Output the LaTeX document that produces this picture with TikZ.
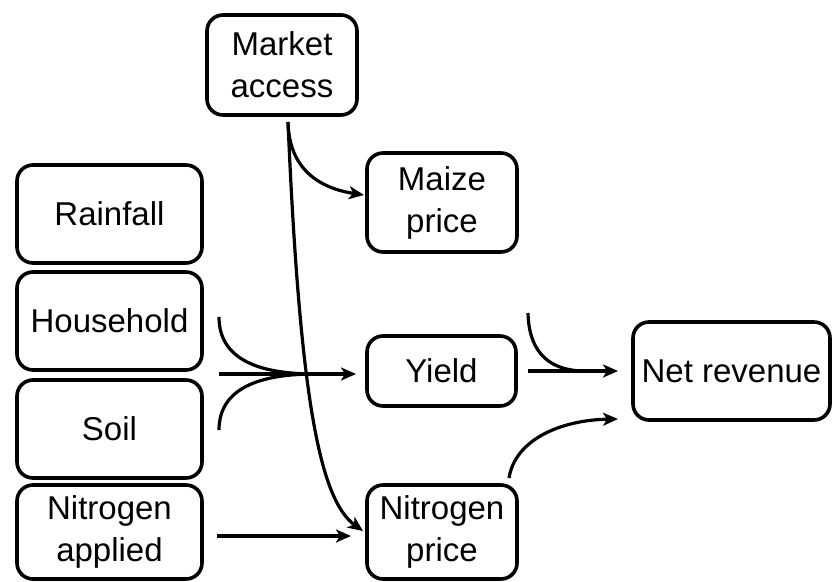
\documentclass[tikz,border=0pt]{standalone}
\usepackage{fontspec}
\setmainfont{Liberation Sans}
\usetikzlibrary{arrows.meta}
\begin{document}
\begin{tikzpicture}[x=1pt,y=-1pt,
  box/.style={draw=black,line width=3.6pt,rounded corners=16pt,inner sep=0pt,align=center,
    font=\fontsize{33}{42}\selectfont},
  conn/.style={line width=3.2pt},
  arr/.style={conn,-{Stealth[length=15pt,width=13pt,inset=4pt]}}]
\useasboundingbox (0,0) rectangle (832,581);
\node[box,minimum width=150pt,minimum height=100pt] (market) at (282,65) {Market\\access};
\node[box,minimum width=185pt,minimum height=98pt] (rain) at (109.5,214) {Rainfall};
\node[box,minimum width=185pt,minimum height=98pt] (house) at (109.5,321) {Household};
\node[box,minimum width=185pt,minimum height=98pt] (soil) at (109.5,429) {Soil};
\node[box,minimum width=185pt,minimum height=94pt] (napp) at (109.5,532) {Nitrogen\\applied};
\node[box,minimum width=150pt,minimum height=99pt] (maize) at (442,202.5) {Maize\\price};
\node[box,minimum width=149pt,minimum height=70pt] (yield) at (441.5,371) {Yield};
\node[box,minimum width=150pt,minimum height=94pt] (nprice) at (442,532) {Nitrogen\\price};
\node[box,minimum width=197pt,minimum height=98pt] (net) at (731.5,371) {Net revenue};
% free ends
\coordinate (ms) at (288,122);
\coordinate (mzin) at (364,195);
\coordinate (npin) at (363,531);
\coordinate (ys) at (219,374);
\coordinate (yu) at (219,317);
\coordinate (yl) at (219,430);
\coordinate (yj) at (315,374);
\coordinate (yin) at (356,374);
\coordinate (rs) at (528,371);
\coordinate (ru) at (528,313);
\coordinate (rj) at (585,371);
\coordinate (rin) at (618,371);
\coordinate (ns) at (509,478);
\coordinate (nin) at (618,419);
\coordinate (as) at (217,536);
\coordinate (ain) at (351,536);
% connectors
\draw[arr] (ms) .. controls (289,168) and (318,188) .. (mzin);
\draw[arr] (ms) .. controls (300,400) and (320,500) .. (npin);
\draw[arr] (ys) -- (yin);
\draw[conn] (yu) .. controls (219,360) and (260,374) .. (yj);
\draw[conn] (yl) .. controls (219,388) and (260,374) .. (yj);
\draw[arr] (rs) -- (rin);
\draw[conn] (ru) .. controls (529,355) and (552,371) .. (rj);
\draw[arr] (ns) .. controls (515,440) and (560,420) .. (nin);
\draw[arr] (as) -- (ain);
\end{tikzpicture}
\end{document}
